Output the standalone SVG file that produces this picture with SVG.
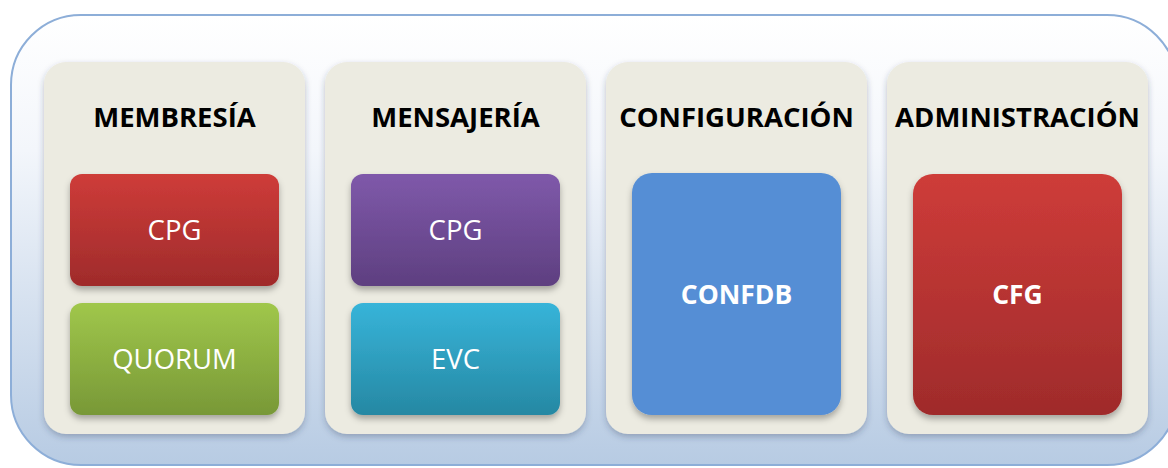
<svg xmlns="http://www.w3.org/2000/svg" width="1168" height="468" viewBox="0 0 1168 468">
<defs>
<linearGradient id="bg" x1="0" y1="0" x2="0" y2="1"><stop offset="0" stop-color="#ffffff"/><stop offset="0.3" stop-color="#f3f6fb"/><stop offset="1" stop-color="#b7cbe3"/></linearGradient>
<linearGradient id="red" x1="0" y1="0" x2="0" y2="1"><stop offset="0" stop-color="#ce3c39"/><stop offset="1" stop-color="#9f2b2b"/></linearGradient>
<linearGradient id="green" x1="0" y1="0" x2="0" y2="1"><stop offset="0" stop-color="#a0c74b"/><stop offset="1" stop-color="#789837"/></linearGradient>
<linearGradient id="purple" x1="0" y1="0" x2="0" y2="1"><stop offset="0" stop-color="#7f59aa"/><stop offset="1" stop-color="#5e3f80"/></linearGradient>
<linearGradient id="teal" x1="0" y1="0" x2="0" y2="1"><stop offset="0" stop-color="#37b4d9"/><stop offset="1" stop-color="#2688a3"/></linearGradient>
<filter id="sh" x="-10%" y="-10%" width="120%" height="125%"><feDropShadow dx="0" dy="4" stdDeviation="3" flood-color="#000" flood-opacity="0.3"/></filter>
<filter id="psh" x="-10%" y="-10%" width="120%" height="120%"><feDropShadow dx="0" dy="3" stdDeviation="3" flood-color="#2a3a55" flood-opacity="0.3"/></filter>
</defs>
<style>
.panel{fill:#ecebe1;filter:url(#psh)}
.box{filter:url(#sh)}
.title{font-family:"Open Sans","Liberation Sans",sans-serif;font-weight:bold;font-size:27.5px;fill:#000;text-anchor:middle}
.lbl{font-family:"Open Sans","Liberation Sans",sans-serif;font-size:27.5px;fill:#fff;text-anchor:middle}
.bold{font-weight:bold;font-size:26.5px}
</style>
<rect x="11" y="15" width="1166" height="450" rx="70" ry="70" fill="url(#bg)" stroke="#8daed8" stroke-width="2"/>
<g id="membresia">
<rect class="panel" x="44" y="62" width="261" height="372" rx="22"/>
<text class="title" x="174.5" y="127">MEMBRESÍA</text>
</g>
<g id="membresia-cpg">
<rect class="box" x="70" y="174" width="209" height="112" rx="12" fill="url(#red)"/>
<text class="lbl" x="174.5" y="240">CPG</text>
</g>
<g id="quorum">
<rect class="box" x="70" y="303" width="209" height="112" rx="12" fill="url(#green)"/>
<text class="lbl" x="174.5" y="369">QUORUM</text>
</g>
<g id="mensajeria">
<rect class="panel" x="325" y="62" width="261" height="372" rx="22"/>
<text class="title" x="455.5" y="127">MENSAJERÍA</text>
</g>
<g id="mensajeria-cpg">
<rect class="box" x="351" y="174" width="209" height="112" rx="12" fill="url(#purple)"/>
<text class="lbl" x="455.5" y="240">CPG</text>
</g>
<g id="evc">
<rect class="box" x="351" y="303" width="209" height="112" rx="12" fill="url(#teal)"/>
<text class="lbl" x="455.5" y="369">EVC</text>
</g>
<g id="configuracion">
<rect class="panel" x="606" y="62" width="261" height="372" rx="22"/>
<text class="title" x="736.5" y="127">CONFIGURACIÓN</text>
</g>
<g id="confdb">
<rect class="box" x="632" y="173" width="209" height="242" rx="20" fill="#558ed5"/>
<text class="lbl bold" x="736.5" y="304">CONFDB</text>
</g>
<g id="administracion">
<rect class="panel" x="887" y="62" width="261" height="372" rx="22"/>
<text class="title" x="1017.5" y="127">ADMINISTRACIÓN</text>
</g>
<g id="cfg">
<rect class="box" x="913" y="174" width="209" height="241" rx="20" fill="url(#red)"/>
<text class="lbl bold" x="1017.5" y="304">CFG</text>
</g>
<g id="connectors"></g>
</svg>
